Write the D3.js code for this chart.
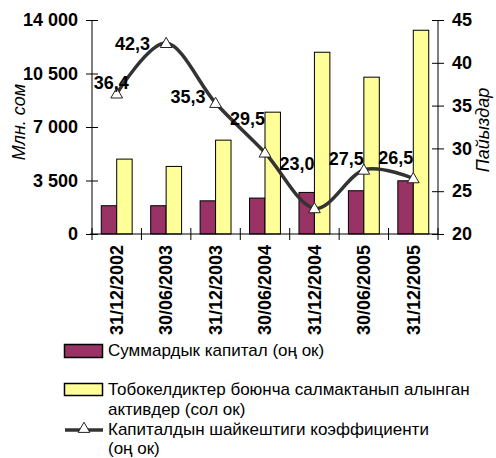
<!DOCTYPE html>
<html>
<head>
<meta charset="utf-8">
<script src="https://cdn.jsdelivr.net/npm/d3@7"></script>
<style>
  body { margin: 0; background: #fff; }
  svg { display: block; }
  svg text { font-family: "Liberation Sans", Arial, sans-serif; }
</style>
</head>
<body>
<svg id="chart" width="496" height="458"></svg>
<script>
// data
const categories = ["31/12/2002", "30/06/2003", "31/12/2003", "30/06/2004", "31/12/2004", "30/06/2005", "31/12/2005"];
const capital = [1850, 1850, 2170, 2350, 2720, 2830, 3480];          // Суммардык капитал
const riskAssets = [4900, 4420, 6140, 7970, 11890, 10260, 13330];    // Тобокелдиктер ... активдер
const ratio = [36.4, 42.3, 35.3, 29.5, 23.0, 27.5, 26.5];            // коэффициент, %
const leftTicks = [0, 3500, 7000, 10500, 14000];
const rightTicks = [20, 25, 30, 35, 40, 45];

// where each value label sits relative to its marker (layout only)
const labelOffset = [[12, -5], [-16, 7], [-10, 0], [0, -28], [0, -38], [0, -5], [0, -14]];

const svg = d3.select("#chart");
const plotL = 92, plotR = 438, plotT = 20, plotB = 234;

const x = d3.scaleBand().domain(categories).range([plotL, plotR]);
const x1 = d3.scaleBand().domain(["capital", "risk"]).range([0, x.bandwidth()]).paddingOuter(0.6);
const yL = d3.scaleLinear().domain([0, 14000]).range([plotB, plotT]);
const yR = d3.scaleLinear().domain([20, 45]).range([plotB, plotT]);

const fmt = v => d3.format(",")(v).replace(/,/g, " ");

// bars
const groups = svg.selectAll("g.grp")
  .data(categories)
  .enter().append("g")
  .attr("transform", d => "translate(" + x(d) + ",0)");

groups.append("rect")
  .attr("x", x1("capital"))
  .attr("y", (d, i) => yL(capital[i]))
  .attr("width", x1.bandwidth())
  .attr("height", (d, i) => yL(0) - yL(capital[i]))
  .attr("fill", "#993366")
  .attr("stroke", "#000")
  .attr("stroke-width", 1);

groups.append("rect")
  .attr("x", x1("risk"))
  .attr("y", (d, i) => yL(riskAssets[i]))
  .attr("width", x1.bandwidth())
  .attr("height", (d, i) => yL(0) - yL(riskAssets[i]))
  .attr("fill", "#FFFF99")
  .attr("stroke", "#000")
  .attr("stroke-width", 1);

// left axis
const gL = svg.append("g")
  .attr("transform", "translate(" + plotL + ",0)")
  .call(d3.axisLeft(yL).tickValues(leftTicks).tickFormat(fmt).tickSize(6).tickPadding(8));
gL.selectAll(".tick line").attr("x1", 6).attr("x2", -6);
gL.select(".domain").attr("d", "M0," + plotT + "V" + plotB);

// right axis
const gR = svg.append("g")
  .attr("transform", "translate(" + plotR + ",0)")
  .call(d3.axisRight(yR).tickValues(rightTicks).tickSize(6).tickPadding(8));
gR.selectAll(".tick line").attr("x1", -6).attr("x2", 6);
gR.select(".domain").attr("d", "M0," + plotT + "V" + plotB);

// bottom axis: ticks at category boundaries
const gB = svg.append("g")
  .attr("transform", "translate(0," + plotB + ")")
  .call(d3.axisBottom(x).tickSize(0).tickPadding(0));
gB.select(".domain").attr("d", "M" + (plotL - 2) + ",0H" + plotR);
gB.selectAll(".tick line").remove();
gB.selectAll(".tick text")
  .attr("transform", "rotate(-90)")
  .attr("x", -11)
  .attr("y", 0)
  .attr("dy", "0.35em")
  .attr("text-anchor", "end");
gB.selectAll(".bound")
  .data(d3.range(categories.length + 1))
  .enter().append("line")
  .attr("x1", i => plotL + i * x.bandwidth())
  .attr("x2", i => plotL + i * x.bandwidth())
  .attr("y1", -6).attr("y2", 6)
  .attr("stroke", "#000");

[gL, gR, gB].forEach(g => {
  g.attr("font-family", null);
  g.selectAll("text").attr("font-size", 18).attr("font-weight", "bold").attr("fill", "#000");
  g.selectAll("path, line").attr("stroke", "#000");
});

// axis titles
svg.append("text")
  .attr("transform", "translate(25,122) rotate(-90)")
  .attr("text-anchor", "middle")
  .attr("font-style", "italic").attr("font-size", 18)
  .text("Млн. сом");
svg.append("text")
  .attr("transform", "translate(489,130) rotate(-90)")
  .attr("text-anchor", "middle")
  .attr("font-style", "italic").attr("font-size", 18)
  .text("Пайыздар");

// ratio line
const cx = (d, i) => x(categories[i]) + x.bandwidth() / 2;
const line = d3.line()
  .x(cx)
  .y(d => yR(d))
  .curve(d3.curveCardinal.tension(0));
svg.append("path")
  .datum(ratio)
  .attr("d", line)
  .attr("fill", "none")
  .attr("stroke", "#333")
  .attr("stroke-width", 3.5);

const tri = d3.symbol().type(d3.symbolTriangle).size(60);
svg.selectAll("path.mark")
  .data(ratio)
  .enter().append("path")
  .attr("transform", (d, i) => "translate(" + cx(d, i) + "," + (yR(d) + 1) + ")")
  .attr("d", tri)
  .attr("fill", "#fff")
  .attr("stroke", "#222")
  .attr("stroke-width", 1);

svg.selectAll("text.val")
  .data(ratio)
  .enter().append("text")
  .attr("x", (d, i) => cx(d, i) + labelOffset[i][0])
  .attr("y", (d, i) => yR(d) + labelOffset[i][1])
  .attr("text-anchor", "end")
  .attr("font-size", 18).attr("font-weight", "bold")
  .text(d => d3.format(".1f")(d).replace(".", ","));

// legend
const lg = svg.append("g").attr("font-size", 17);
lg.append("rect").attr("x", 64.5).attr("y", 344.5).attr("width", 38).attr("height", 13)
  .attr("fill", "#993366").attr("stroke", "#000").attr("stroke-width", 1.5);
lg.append("text").attr("x", 108).attr("y", 356).text("Суммардык капитал (оң ок)");

lg.append("rect").attr("x", 64.5).attr("y", 383.5).attr("width", 38).attr("height", 12)
  .attr("fill", "#FFFF99").attr("stroke", "#000").attr("stroke-width", 1.5);
lg.append("text").attr("x", 108).attr("y", 395).text("Тобокелдиктер боюнча салмактанып алынган");
lg.append("text").attr("x", 108).attr("y", 414.5).text("активдер (сол ок)");

lg.append("line").attr("x1", 65).attr("x2", 103).attr("y1", 430).attr("y2", 430)
  .attr("stroke", "#333").attr("stroke-width", 3.5);
lg.append("path").attr("transform", "translate(84,429)").attr("d", tri)
  .attr("fill", "#fff").attr("stroke", "#222").attr("stroke-width", 1);
lg.append("text").attr("x", 108).attr("y", 434.5).text("Капиталдын шайкештиги коэффициенти");
lg.append("text").attr("x", 108).attr("y", 454).text("(оң ок)");
</script>
</body>
</html>
